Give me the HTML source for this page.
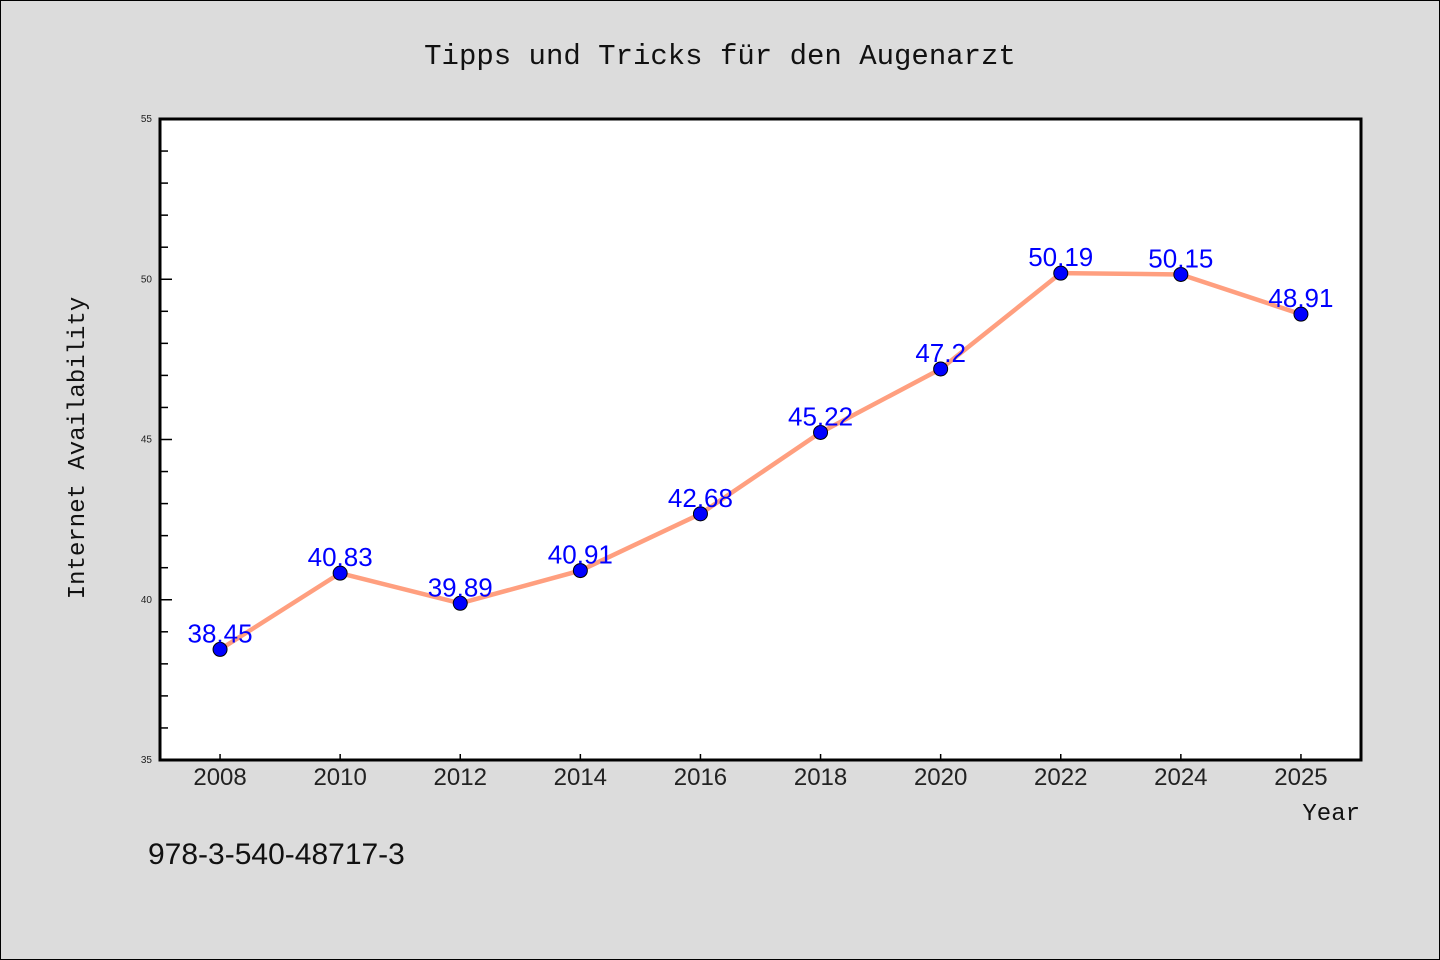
<!DOCTYPE html>
<html><head><meta charset="utf-8"><style>
body{margin:0;background:#dcdcdc;}
svg{display:block;font-family:"WenQuanYi Zen Hei","Liberation Sans",sans-serif;}
</style></head><body>
<svg id="c" width="1440" height="960">
<rect x="0.5" y="0.5" width="1439" height="959" fill="#dcdcdc" stroke="#000"/>
<text x="720" y="64" text-anchor="middle" font-size="29" font-family="'Liberation Mono',monospace" fill="#111">Tipps und Tricks für den Augenarzt</text>
<rect x="160" y="119" width="1201" height="641" fill="#fff" stroke="#000" stroke-width="3"/>
<g id="ticks"></g>
<g id="series"></g>
<text transform="translate(84,448) rotate(-90)" text-anchor="middle" font-size="24" font-family="'Liberation Mono',monospace" fill="#111">Internet Availability</text>
<text x="1360" y="820" text-anchor="end" font-size="24" font-family="'Liberation Mono',monospace" fill="#111">Year</text>
<text x="148" y="864" font-size="30" fill="#111">978-3-540-48717-3</text>
</svg>
<script>
const categories=["2008","2010","2012","2014","2016","2018","2020","2022","2024","2025"];
const values=[38.45,40.83,39.89,40.91,42.68,45.22,47.2,50.19,50.15,48.91];
const valueLabels=["38.45","40.83","39.89","40.91","42.68","45.22","47.2","50.19","50.15","48.91"];
const yTicks=[35,40,45,50,55];
const ns="http://www.w3.org/2000/svg";
const X0=160,X1=1361,Y0=760,Y1=119,ymin=35,ymax=55;
const step=(X1-X0)/categories.length;
const xs=i=>X0+step*(i+0.5);
const ys=v=>Y0-(v-ymin)/(ymax-ymin)*(Y0-Y1);
function mk(t,a,p){const e=document.createElementNS(ns,t);for(const k in a)e.setAttribute(k,a[k]);p.appendChild(e);return e;}
const tg=document.getElementById('ticks'),sg=document.getElementById('series');
for(let v=ymin;v<=ymax;v++){const major=yTicks.includes(v);
 const l=mk('line',{x1:X0,x2:X0+(major?12:8),y1:ys(v),y2:ys(v),stroke:'#000','stroke-width':1.5},tg);
 
 }
yTicks.forEach(v=>{const t=mk('text',{x:152,y:ys(v)+3,'text-anchor':'end','font-size':10,fill:'#222'},tg);t.textContent=v;
 
 });
categories.forEach((c,i)=>{const l=mk('line',{x1:xs(i),x2:xs(i),y1:Y0,y2:Y0-6,stroke:'#000','stroke-width':1.5},tg);
 
 
 const t=mk('text',{x:xs(i),y:785,'text-anchor':'middle','font-size':24,fill:'#222'},tg);t.textContent=c;
 
 });
const pl=mk('polyline',{points:values.map((v,i)=>xs(i)+','+ys(v)).join(' '),fill:'none',stroke:'#ff9f7f','stroke-width':4.5},sg);


values.forEach((v,i)=>{const c=mk('circle',{cx:xs(i),cy:ys(v),r:7,fill:'#0000ff',stroke:'#000','stroke-width':1},sg);
 
 
 const t=mk('text',{x:xs(i),y:ys(v)-7,'text-anchor':'middle','font-size':26,fill:'#0000ff'},sg);t.textContent=valueLabels[i];
 
 });
</script>
</body></html>
